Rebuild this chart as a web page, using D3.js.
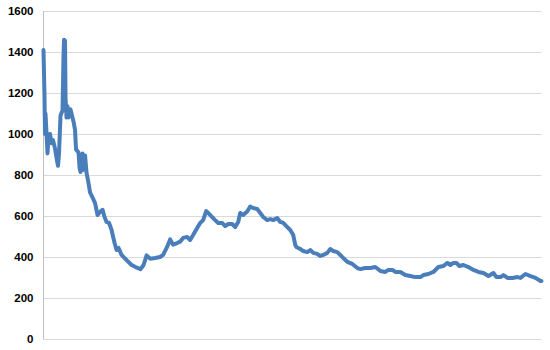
<!DOCTYPE html>
<html>
<head>
<meta charset="utf-8">
<script src="https://cdn.jsdelivr.net/npm/d3@7"></script>
<style>
  body { margin: 0; background: #fff; }
  svg { display: block; }
</style>
</head>
<body>
<div id="chart"></div>
<script>
// sample position (period index) and value
const periods = [
  0, 1, 1.5, 2, 3, 4, 5, 6.5, 8, 9.5, 11.5, 13, 14.5, 15.5, 17, 19, 20, 20.5, 21.5, 22,
  23, 24, 25, 27, 30, 31.5, 32.5, 35, 36, 37, 39, 40, 41.5, 43, 45, 46.5, 49, 51.5, 54, 56.5,
  59, 61, 63, 65.5, 68, 71, 73, 75, 78, 83, 88, 92, 97, 100, 103, 106.5, 111.5, 116.5, 119.5, 123.5,
  126.5, 129.5, 133.5, 136.5, 139.5, 143.5, 146.5, 149.5, 153.5, 156.5, 159.5, 162.5, 164.5, 168.5, 171.5, 174.5, 178.5, 181.5, 184.5, 188.5,
  191.5, 194.5, 196.5, 199.5, 203.5, 206.5, 209.5, 213.5, 216.5, 219.5, 223.5, 226.5, 229.5, 233.5, 236.5, 239.5, 243.5, 246.5, 249.5, 251.5,
  252.5, 256.5, 259.5, 263.5, 266.5, 269.5, 273.5, 276.5, 279.5, 283.5, 286.5, 289.5, 293.5, 296.5, 299.5, 303.5, 308.5, 313.5, 316.5, 321.5,
  326.5, 331.5, 336.5, 341.5, 344.5, 348.5, 351.5, 356.5, 361.5, 366.5, 371.5, 376.5, 379.5, 384.5, 389.5, 394.5, 399.5, 403.5, 406.5, 409.5,
  412.5, 415.5, 419.5, 424.5, 429.5, 434.5, 439.5, 444.5, 449.5, 452.5, 456.5, 459.5, 463.5, 468.5, 473.5, 476.5, 481.5, 486.5, 491.5, 496.5, 497.5
];
const values = [
  1410, 1180, 1000, 1100, 1005, 905, 980, 1000, 955, 970, 930, 885, 845, 905, 1090, 1115, 1380, 1460, 1455, 1180,
  1080, 1135, 1080, 1120, 1060, 1020, 925, 910, 835, 815, 905, 825, 895, 810, 760, 715, 690, 663, 605, 620,
  630, 595, 571, 566, 532, 468, 434, 444, 410, 385, 361, 351, 341, 361, 408, 392, 395, 400, 410, 449,
  486, 460, 468, 475, 493, 498, 483, 507, 541, 566, 580, 624, 615, 595, 580, 566, 566, 551, 561, 561,
  546, 571, 615, 605, 622, 646, 639, 634, 615, 595, 580, 585, 580, 590, 571, 566, 546, 532, 507, 459,
  449, 439, 429, 424, 434, 420, 415, 405, 410, 420, 439, 429, 424, 410, 395, 376, 366, 346, 341, 346,
  346, 351, 332, 327, 337, 337, 327, 327, 312, 307, 302, 302, 312, 317, 327, 351, 356, 371, 361, 371,
  371, 356, 361, 351, 337, 327, 322, 307, 322, 302, 302, 312, 298, 298, 302, 298, 317, 307, 298, 283, 283
];
const yTicks = [0, 200, 400, 600, 800, 1000, 1200, 1400, 1600];

const width = 550,
  height = 350;
const plot = { left: 43.5, right: 541.5, top: 11, bottom: 339 };

const svg = d3.select("#chart")
  .append("svg")
  .attr("width", width)
  .attr("height", height);

const x = d3.scaleLinear()
  .domain([0, d3.max(periods)])
  .range([plot.left, plot.right]);

const y = d3.scaleLinear()
  .domain([0, 1600])
  .range([plot.bottom, plot.top]);

// horizontal gridlines
svg.append("g")
  .selectAll("line")
  .data(yTicks)
  .join("line")
  .attr("x1", plot.left)
  .attr("x2", plot.right)
  .attr("y1", d => Math.round(y(d)) + 0.5)
  .attr("y2", d => Math.round(y(d)) + 0.5)
  .attr("stroke", "#d9d9d9")
  .attr("stroke-width", 1);

// y axis
const yAxis = svg.append("g")
  .attr("transform", `translate(${plot.left},0)`)
  .call(d3.axisLeft(y).tickValues(yTicks).tickFormat(d3.format("d")).tickSize(0).tickPadding(10));

yAxis.select(".domain")
  .attr("stroke", "#bfbfbf")
  .attr("d", `M0,${plot.top}V${plot.bottom + 0.5}`);

yAxis.selectAll("text")
  .attr("fill", "#000")
  .style("font-family", "'Liberation Sans', Arial, sans-serif")
  .style("font-size", "11.5px")
  .style("font-weight", "bold");

// the series
const series = periods.map((p, i) => ({ p, v: values[i] }));

svg.append("path")
  .datum(series)
  .attr("fill", "none")
  .attr("stroke", "#4a7ebb")
  .attr("stroke-width", 4)
  .attr("stroke-linejoin", "round")
  .attr("stroke-linecap", "round")
  .attr("d", d3.line().x(d => x(d.p)).y(d => y(d.v)));
</script>
</body>
</html>
